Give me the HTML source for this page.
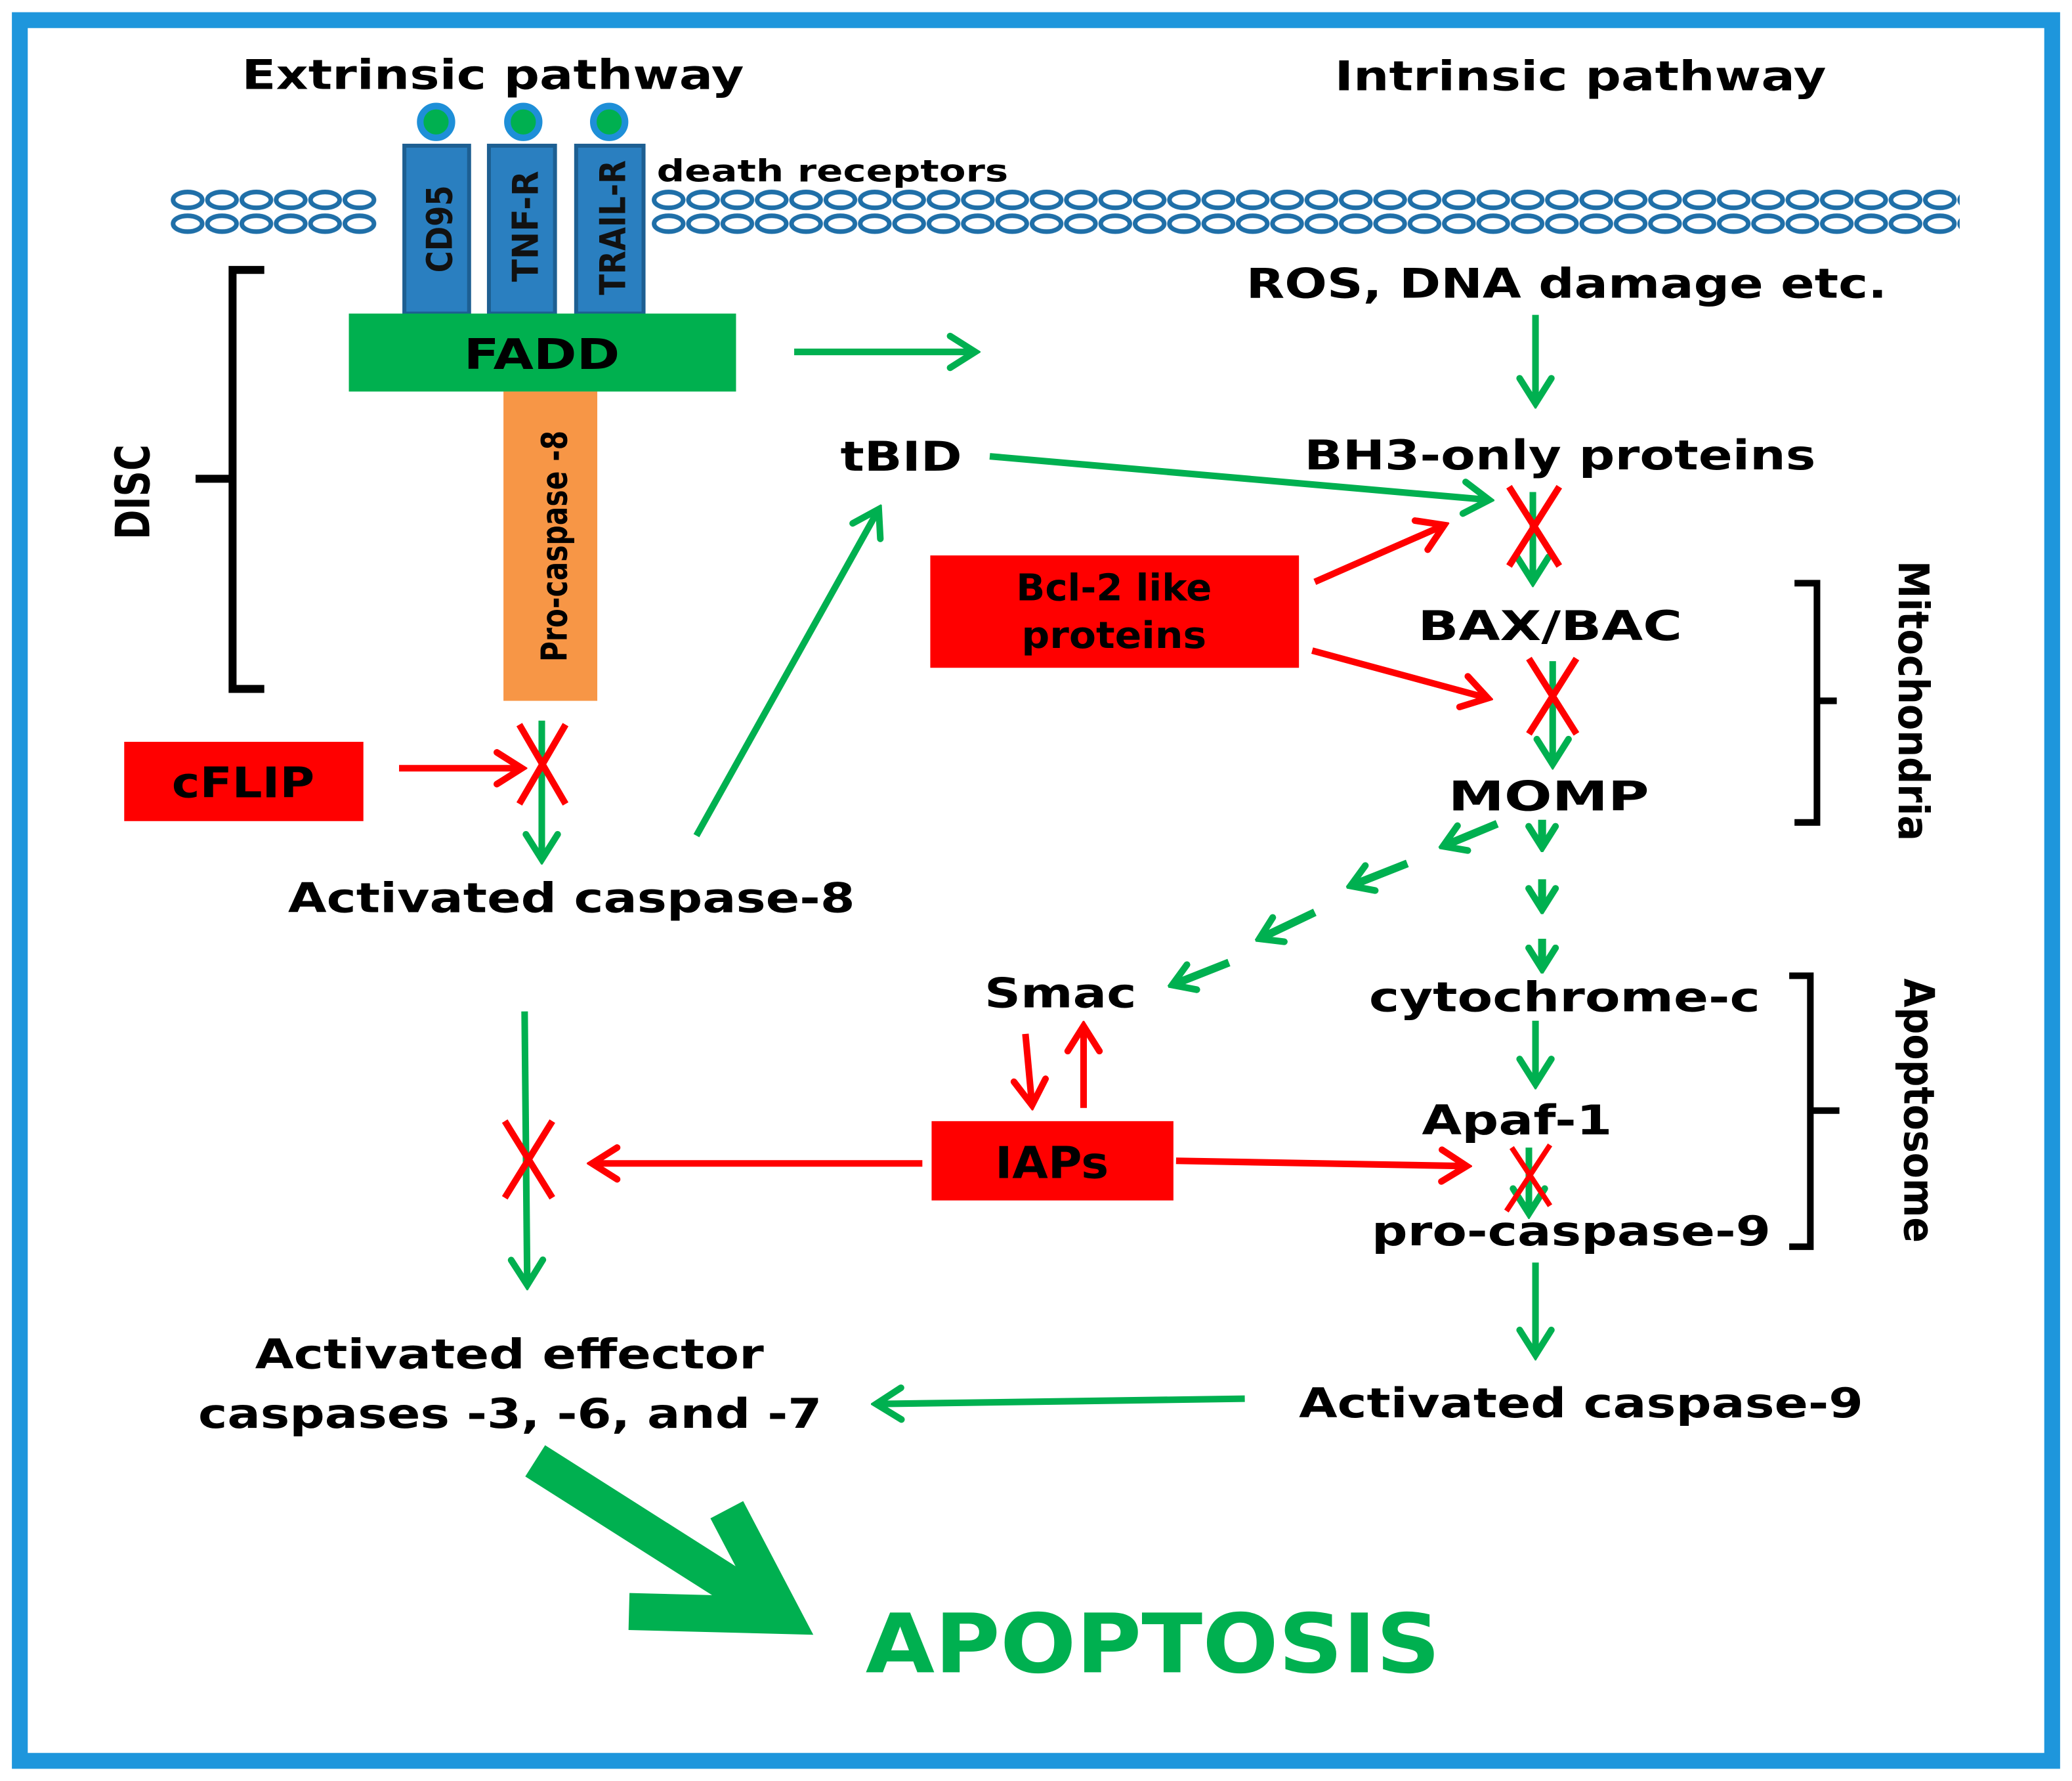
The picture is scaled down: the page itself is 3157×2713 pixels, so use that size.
<!DOCTYPE html>
<html><head><meta charset="utf-8"><style>html,body{margin:0;padding:0;background:#fff}svg{display:block}</style></head>
<body>
<svg width="3157" height="2713" viewBox="0 0 1568 1347" xmlns="http://www.w3.org/2000/svg" font-family="'DejaVu Sans','Liberation Sans',sans-serif" font-weight="bold">
<defs>
<marker id="g" markerUnits="userSpaceOnUse" viewBox="0 0 26 30" refX="22" refY="15" markerWidth="26" markerHeight="30" orient="auto"><path d="M3,3 L22,15 L3,27" fill="none" stroke="#00b050" stroke-width="5" stroke-linecap="round" stroke-linejoin="miter"/></marker>
<marker id="r" markerUnits="userSpaceOnUse" viewBox="0 0 26 30" refX="22" refY="15" markerWidth="26" markerHeight="30" orient="auto"><path d="M3,3 L22,15 L3,27" fill="none" stroke="#ff0000" stroke-width="5" stroke-linecap="round"/></marker>
<marker id="gs" markerUnits="userSpaceOnUse" viewBox="0 0 26 30" refX="22" refY="15" markerWidth="22" markerHeight="26" orient="auto"><path d="M3,3 L22,15 L3,27" fill="none" stroke="#00b050" stroke-width="6" stroke-linecap="round"/></marker>
<pattern id="mem2" x="493" y="142" width="26" height="36" patternUnits="userSpaceOnUse"><ellipse cx="13" cy="9" rx="11" ry="6" fill="none" stroke="#1f6fa8" stroke-width="3.5"/><ellipse cx="13" cy="27" rx="11" ry="6" fill="none" stroke="#1f6fa8" stroke-width="3.5"/></pattern>
<pattern id="mem1" x="129" y="142" width="26" height="36" patternUnits="userSpaceOnUse"><ellipse cx="13" cy="9" rx="11" ry="6" fill="none" stroke="#1f6fa8" stroke-width="3.5"/><ellipse cx="13" cy="27" rx="11" ry="6" fill="none" stroke="#1f6fa8" stroke-width="3.5"/></pattern>
</defs>
<rect x="0" y="0" width="1568" height="1347" fill="#fff"/>
<rect x="15" y="15" width="1538" height="1317" fill="none" stroke="#1e96dc" stroke-width="12"/>

<text x="183" y="67" font-size="31" textLength="380" lengthAdjust="spacingAndGlyphs">Extrinsic pathway</text>
<text x="1010" y="68" font-size="31" textLength="372" lengthAdjust="spacingAndGlyphs">Intrinsic pathway</text>

<rect x="129" y="142" width="156" height="36" fill="url(#mem1)"/>
<rect x="493" y="142" width="990" height="36" fill="url(#mem2)"/>

<g fill="#2a7fc0" stroke="#1d5f92" stroke-width="3">
<rect x="306" y="110" width="49" height="127"/><rect x="370" y="110" width="50" height="127"/><rect x="436" y="110" width="51" height="127"/>
</g>
<g fill="#00b050" stroke="#1e8fd8" stroke-width="5">
<circle cx="330" cy="92" r="12"/><circle cx="396" cy="92" r="12"/><circle cx="461" cy="92" r="12"/>
</g>
<g font-size="27" fill="#111">
<text transform="translate(342,173) rotate(-90)" text-anchor="middle" textLength="66" lengthAdjust="spacingAndGlyphs">CD95</text>
<text transform="translate(407,171) rotate(-90)" text-anchor="middle" textLength="84" lengthAdjust="spacingAndGlyphs">TNF-R</text>
<text transform="translate(473,172) rotate(-90)" text-anchor="middle" textLength="102" lengthAdjust="spacingAndGlyphs">TRAIL-R</text>
</g>
<text x="497" y="137" font-size="23" textLength="266" lengthAdjust="spacingAndGlyphs">death receptors</text>

<rect x="264" y="237" width="293" height="59" fill="#00b04f"/>
<text x="410" y="279" font-size="32" text-anchor="middle" textLength="118" lengthAdjust="spacingAndGlyphs">FADD</text>
<rect x="381" y="296" width="71" height="234" fill="#f79646"/>
<text transform="translate(429,413) rotate(-90)" font-size="27" text-anchor="middle" textLength="175" lengthAdjust="spacingAndGlyphs">Pro-caspase -8</text>

<path d="M200,204 L176,204 L176,521 L200,521 M176,362 L148,362" fill="none" stroke="#000" stroke-width="6"/>
<text transform="translate(113,372) rotate(-90)" font-size="36" text-anchor="middle" textLength="72" lengthAdjust="spacingAndGlyphs">DISC</text>

<rect x="94" y="561" width="181" height="60" fill="#ff0000"/>
<text x="184" y="603" font-size="32" text-anchor="middle" textLength="108" lengthAdjust="spacingAndGlyphs">cFLIP</text>
<line x1="302" y1="581" x2="395" y2="581" stroke="#ff0000" stroke-width="5" marker-end="url(#r)"/>
<line x1="410" y1="545" x2="410" y2="650" stroke="#00b050" stroke-width="5" marker-end="url(#g)"/>
<path d="M393,548 L428,608 M428,548 L393,608" stroke="#ff0000" stroke-width="5"/>

<text x="218" y="690" font-size="31" textLength="429" lengthAdjust="spacingAndGlyphs">Activated caspase-8</text>
<line x1="527" y1="632" x2="665" y2="385" stroke="#00b050" stroke-width="5" marker-end="url(#g)"/>
<text x="636" y="356" font-size="31" textLength="92" lengthAdjust="spacingAndGlyphs">tBID</text>
<line x1="601" y1="266" x2="738" y2="266" stroke="#00b050" stroke-width="5" marker-end="url(#g)"/>

<text x="943" y="225" font-size="31" textLength="485" lengthAdjust="spacingAndGlyphs">ROS, DNA damage etc.</text>
<line x1="1162" y1="238" x2="1162" y2="305" stroke="#00b050" stroke-width="5" marker-end="url(#g)"/>
<text x="987" y="355" font-size="31" textLength="387" lengthAdjust="spacingAndGlyphs">BH3-only proteins</text>
<line x1="749" y1="345" x2="1127" y2="378" stroke="#00b050" stroke-width="5" marker-end="url(#g)"/>
<line x1="1160" y1="372" x2="1160" y2="440" stroke="#00b050" stroke-width="5" marker-end="url(#g)"/>
<path d="M1142,368 L1180,428 M1180,368 L1142,428" stroke="#ff0000" stroke-width="5"/>

<rect x="704" y="420" width="279" height="85" fill="#ff0000"/>
<text x="843" y="454" font-size="28" text-anchor="middle" textLength="148" lengthAdjust="spacingAndGlyphs">Bcl-2 like</text>
<text x="843" y="490" font-size="28" text-anchor="middle" textLength="140" lengthAdjust="spacingAndGlyphs">proteins</text>
<line x1="995" y1="440" x2="1093" y2="397" stroke="#ff0000" stroke-width="5" marker-end="url(#r)"/>
<line x1="993" y1="492" x2="1126" y2="528" stroke="#ff0000" stroke-width="5" marker-end="url(#r)"/>

<text x="1073" y="484" font-size="31" textLength="200" lengthAdjust="spacingAndGlyphs">BAX/BAC</text>
<line x1="1175" y1="500" x2="1175" y2="578" stroke="#00b050" stroke-width="5" marker-end="url(#g)"/>
<path d="M1157,498 L1193,555 M1193,498 L1157,555" stroke="#ff0000" stroke-width="5"/>
<text x="1096" y="613" font-size="31" textLength="152" lengthAdjust="spacingAndGlyphs">MOMP</text>

<path d="M1358,441 L1375,441 L1375,622 L1358,622 M1375,530 L1390,530" fill="none" stroke="#000" stroke-width="5"/>
<text transform="translate(1437,530) rotate(90)" font-size="32" text-anchor="middle" textLength="212" lengthAdjust="spacingAndGlyphs">Mitochondria</text>

<g stroke="#00b050" stroke-width="6" marker-end="url(#gs)">
<line x1="1133" y1="623" x2="1092" y2="640"/>
<line x1="1065" y1="653" x2="1022" y2="670"/>
<line x1="995" y1="690" x2="953" y2="710"/>
<line x1="930" y1="728" x2="887" y2="745"/>
<line x1="1167" y1="620" x2="1167" y2="641"/>
<line x1="1167" y1="665" x2="1167" y2="688"/>
<line x1="1167" y1="710" x2="1167" y2="733"/>
</g>

<text x="745" y="762" font-size="31" textLength="115" lengthAdjust="spacingAndGlyphs">Smac</text>
<text x="1036" y="765" font-size="31" textLength="296" lengthAdjust="spacingAndGlyphs">cytochrome-c</text>
<path d="M1354,738 L1370,738 L1370,943 L1354,943 M1370,840 L1392,840" fill="none" stroke="#000" stroke-width="5"/>
<text transform="translate(1441,840) rotate(90)" font-size="32" text-anchor="middle" textLength="200" lengthAdjust="spacingAndGlyphs">Apoptosome</text>
<line x1="1162" y1="772" x2="1162" y2="820" stroke="#00b050" stroke-width="5" marker-end="url(#g)"/>
<text x="1076" y="858" font-size="31" textLength="144" lengthAdjust="spacingAndGlyphs">Apaf-1</text>
<line x1="1157" y1="868" x2="1157" y2="918" stroke="#00b050" stroke-width="5" marker-end="url(#g)"/>
<path d="M1140,916 L1173,866 M1144,868 L1173,912" stroke="#ff0000" stroke-width="4"/>
<text x="1038" y="942" font-size="31" textLength="302" lengthAdjust="spacingAndGlyphs">pro-caspase-9</text>

<rect x="705" y="848" width="183" height="60" fill="#ff0000"/>
<text x="796" y="891" font-size="33" text-anchor="middle" textLength="86" lengthAdjust="spacingAndGlyphs">IAPs</text>
<line x1="776" y1="782" x2="781" y2="836" stroke="#ff0000" stroke-width="5" marker-end="url(#r)"/>
<line x1="820" y1="838" x2="820" y2="776" stroke="#ff0000" stroke-width="5" marker-end="url(#r)"/>
<line x1="698" y1="880" x2="448" y2="880" stroke="#ff0000" stroke-width="5" marker-end="url(#r)"/>
<line x1="890" y1="878" x2="1110" y2="882" stroke="#ff0000" stroke-width="5" marker-end="url(#r)"/>

<line x1="397" y1="765" x2="399" y2="972" stroke="#00b050" stroke-width="5" marker-end="url(#g)"/>
<path d="M382,848 L418,906 M418,848 L382,906" stroke="#ff0000" stroke-width="5"/>

<text x="193" y="1035" font-size="31" textLength="385" lengthAdjust="spacingAndGlyphs">Activated effector</text>
<text x="150" y="1080" font-size="31" textLength="472" lengthAdjust="spacingAndGlyphs">caspases -3, -6, and -7</text>
<line x1="1162" y1="955" x2="1162" y2="1025" stroke="#00b050" stroke-width="5" marker-end="url(#g)"/>
<text x="983" y="1072" font-size="31" textLength="427" lengthAdjust="spacingAndGlyphs">Activated caspase-9</text>
<line x1="942" y1="1058" x2="663" y2="1062" stroke="#00b050" stroke-width="5" marker-end="url(#g)"/>

<line x1="405" y1="1105" x2="575" y2="1213" stroke="#00b050" stroke-width="28"/>
<path d="M550,1142 L592,1222 L476,1219" fill="none" stroke="#00b050" stroke-width="28" stroke-linejoin="miter"/>
<text x="655" y="1265" font-size="62" fill="#00b050" textLength="435" lengthAdjust="spacingAndGlyphs">APOPTOSIS</text>
</svg>
</body></html>
